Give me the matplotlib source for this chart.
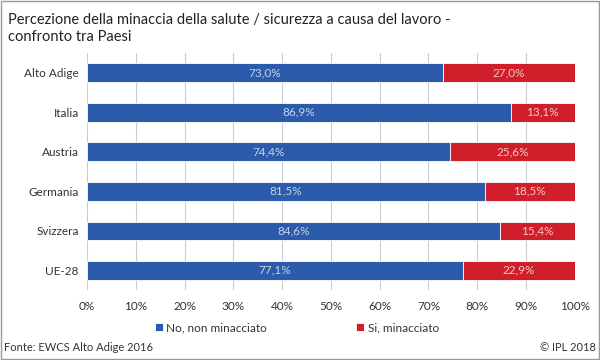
import numpy as np
import matplotlib.pyplot as plt
from matplotlib.patches import Rectangle

plt.rcParams['font.family'] = ['Lato', 'DejaVu Sans']

# data
paesi = ['Alto Adige', 'Italia', 'Austria', 'Germania', 'Svizzera', 'UE-28']
non_minacciato = [73.0, 86.9, 74.4, 81.5, 84.6, 77.1]
minacciato = [27.0, 13.1, 25.6, 18.5, 15.4, 22.9]

blue = '#2B5BAA'
red = '#D01F2B'

fig = plt.figure(figsize=(6, 3.6), dpi=100)
ax = fig.add_axes([0.145, 0.194, 0.813, 0.659])

y = np.arange(len(paesi))
h = 0.47
ax.barh(y, non_minacciato, height=h, color=blue, edgecolor='white', linewidth=0.6,
        label='No, non minacciato', zorder=3)
ax.barh(y, minacciato, left=non_minacciato, height=h, color=red, edgecolor='white',
        linewidth=0.6, label='Si, minacciato', zorder=3)

for i in range(len(paesi)):
    ax.text(non_minacciato[i] / 2, y[i], f'{non_minacciato[i]:.1f}%'.replace('.', ','),
            ha='center', va='center', color='#c8d3e8', fontsize=8.5, zorder=4)
    ax.text(non_minacciato[i] + minacciato[i] / 2, y[i],
            f'{minacciato[i]:.1f}%'.replace('.', ','),
            ha='center', va='center', color='#f0c8c8', fontsize=8.5, zorder=4)

ax.set_xlim(0, 100)
ax.set_ylim(len(paesi) - 0.5, -0.5)
ax.set_xticks(np.arange(0, 101, 10))
ax.set_xticklabels([f'{v}%' for v in range(0, 101, 10)])
ax.set_yticks(y)
ax.set_yticklabels(paesi)
ax.tick_params(axis='both', length=0, labelsize=8.5, colors='#333333')
ax.tick_params(axis='x', pad=8)
ax.tick_params(axis='y', pad=6)
ax.grid(axis='x', color='#c9ccd2', linewidth=0.8, zorder=0)
for s in ax.spines.values():
    s.set_visible(False)

fig.text(0.013, 0.965, 'Percezione della minaccia della salute / sicurezza a causa del lavoro -\nconfronto tra Paesi',
         ha='left', va='top', fontsize=10.5, color='#222222', linespacing=1.35)

ax.legend(loc='center', bbox_to_anchor=(0.43, -0.158), ncol=2, frameon=False,
          fontsize=8.5, handlelength=0.7, handleheight=0.7, handletextpad=0.3,
          columnspacing=7.5, labelcolor='#333333')

fig.text(0.007, 0.035, 'Fonte: EWCS Alto Adige 2016', fontsize=8, color='#333333', ha='left', va='center')
fig.text(0.993, 0.035, '\u00a9 IPL 2018', fontsize=8, color='#333333', ha='right', va='center')

fig.patches.append(Rectangle((0.001, 0.002), 0.997, 0.995, transform=fig.transFigure,
                             fill=False, edgecolor='#999999', linewidth=1))

fig.savefig('out.png', dpi=100)
